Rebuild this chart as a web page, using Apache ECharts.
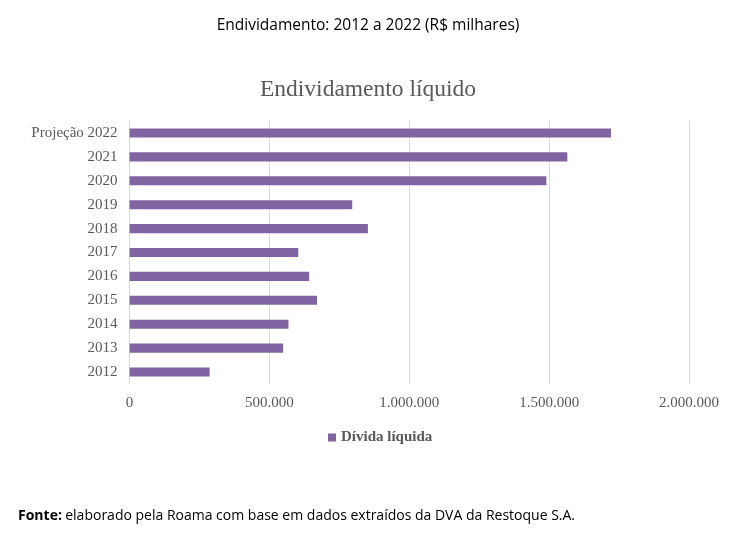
<!DOCTYPE html>
<html><head><meta charset="utf-8">
<script src="https://cdn.jsdelivr.net/npm/echarts@6/dist/echarts.min.js"></script>
<style>html,body{margin:0;padding:0;background:#fff}#c{width:736px;height:537px}</style>
</head><body><div id="c"></div>
<script>
const categories = ['2012','2013','2014','2015','2016','2017','2018','2019','2020','2021','Projeção 2022'];
const divida = [286000, 549000, 568000, 670000, 642000, 603000, 852000, 796000, 1490000, 1565000, 1721000];
const xTicks = [0, 500000, 1000000, 1500000, 2000000];
const seriesName = 'Dívida líquida';

function fmt(v){ return String(v).replace(/\B(?=(\d{3})+(?!\d))/g,'.'); }

const chart = echarts.init(document.getElementById('c'));
chart.setOption({
  backgroundColor:'#fff',
  animation:false,
  title:[
    {text:'Endividamento: 2012 a 2022 (R$ milhares)', left:'center', top:13,
     textStyle:{fontFamily:'Open Sans', fontSize:15.5, fontWeight:'normal', color:'#000'}},
    {text:'Endividamento líquido', left:'center', top:73,
     textStyle:{fontFamily:'Liberation Serif', fontSize:23.5, fontWeight:'normal', color:'#595959'}}
  ],
  legend:{data:[seriesName], top:425, left:323, itemWidth:8, itemHeight:8, icon:'rect', itemGap:6,
    textStyle:{fontFamily:'Liberation Serif', fontSize:15, fontWeight:'bold', color:'#595959'}},
  grid:{left:129.6, right:47, top:121, bottom:153, containLabel:false},
  xAxis:{type:'value', min:xTicks[0], max:xTicks[xTicks.length-1], interval:500000,
    axisLine:{show:false}, axisTick:{show:false},
    splitLine:{lineStyle:{color:'#d9d9d9', width:1}},
    axisLabel:{formatter:v=>fmt(v), margin:12, fontFamily:'Liberation Serif', fontSize:15, color:'#595959'}},
  yAxis:{type:'category', data:categories,
    axisLine:{show:false}, axisTick:{show:false},
    axisLabel:{margin:12, fontFamily:'Liberation Serif', fontSize:15, color:'#595959'}},
  series:[{name:seriesName, type:'bar', data:divida, barWidth:'38%', itemStyle:{color:'#8064a2'}}],
  graphic:[{type:'text', left:18, top:509,
    style:{rich:{b:{fontWeight:'bold', fontFamily:'Open Sans', fontSize:14, fill:'#000'},
                 n:{fontFamily:'Open Sans', fontSize:14, fill:'#000'}},
      text:'{b|Fonte:} {n|elaborado pela Roama com base em dados extraídos da DVA da Restoque S.A.}'}}]
});
</script></body></html>
